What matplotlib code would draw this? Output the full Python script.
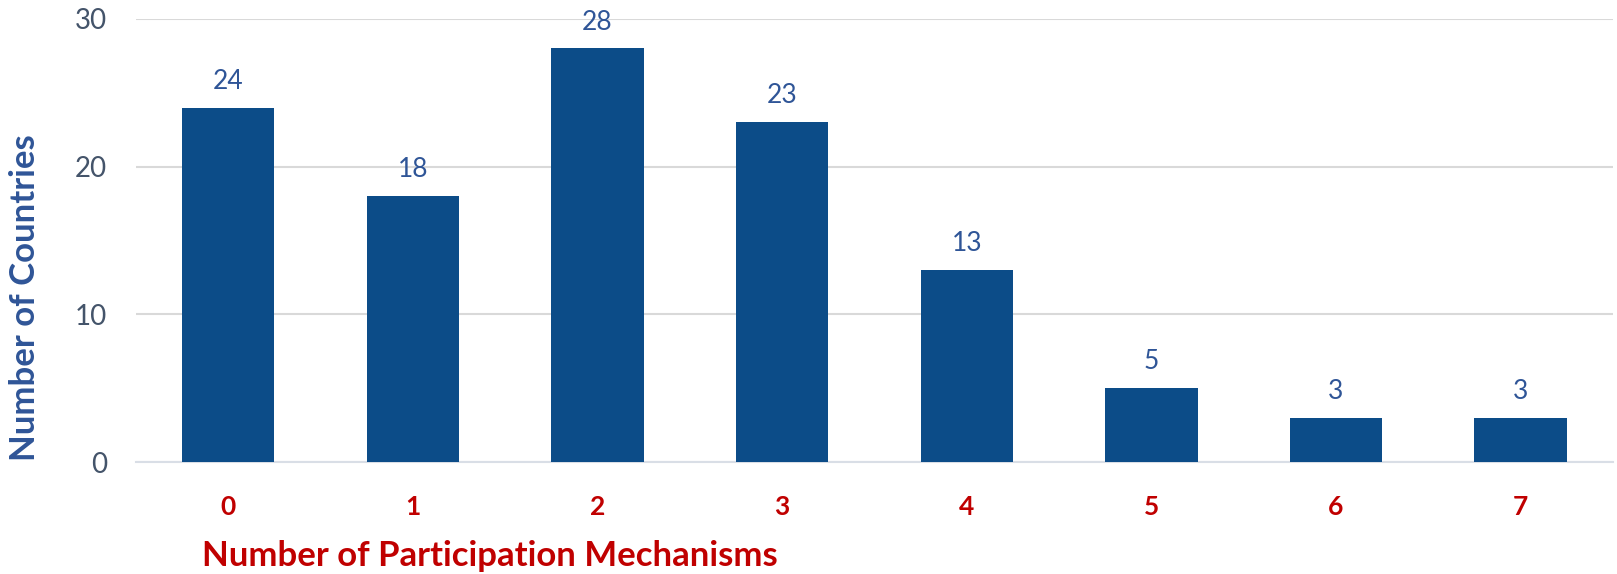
import matplotlib.pyplot as plt
import numpy as np

mechanisms = ['0', '1', '2', '3', '4', '5', '6', '7']
countries = [24, 18, 28, 23, 13, 5, 3, 3]
yticks = [0, 10, 20, 30]

plt.rcParams['font.family'] = ['Lato', 'DejaVu Sans']

bar_color = '#0C4C88'
red = '#C00000'
blue = '#2F5597'
grey = '#44546A'

fig = plt.figure(figsize=(16.17, 5.74), dpi=100)
ax = fig.add_axes([0.0841, 0.195, 0.9134, 0.772])

x = np.arange(len(mechanisms))
bars = ax.bar(x, countries, width=0.5, color=bar_color, zorder=3)
ax.bar_label(bars, labels=[str(v) for v in countries], padding=10,
             color=blue, fontsize=19)

ax.set_xlim(-0.5, len(mechanisms) - 0.5)
ax.set_ylim(0, 30)
ax.set_yticks(yticks)
ax.set_xticks(x)
ax.set_xticklabels(mechanisms, color=red, fontsize=19, fontweight='bold')
ax.tick_params(axis='x', length=0, pad=24)
ax.tick_params(axis='y', length=0, pad=21, labelsize=20, labelcolor=grey)

ax.grid(axis='y', color='#D9D9D9', linewidth=1.5, zorder=0)
for s in ['top', 'right', 'left']:
    ax.spines[s].set_visible(False)
ax.spines['bottom'].set_color('#D9DEE6')
ax.spines['bottom'].set_linewidth(1.5)

ax.set_xlabel('Number of Participation Mechanisms', color=red, fontsize=25,
              fontweight='bold', ha='left')
ax.xaxis.set_label_coords(0.045, -0.175)
ax.set_ylabel('Number of Countries', color=blue, fontsize=25, fontweight='bold')
ax.yaxis.set_label_coords(-0.064, 0.37)

fig.savefig('out.png', dpi=100)
